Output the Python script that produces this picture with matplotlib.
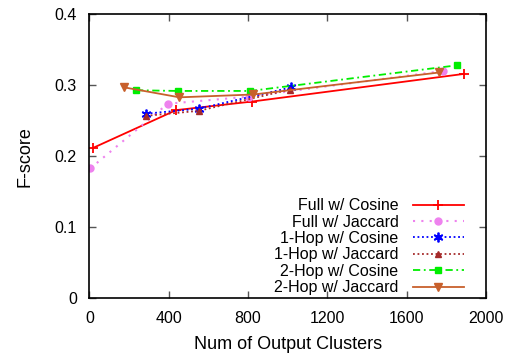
import matplotlib
matplotlib.use("Agg")
import matplotlib.pyplot as plt

# values
full_cos_x = [20, 437, 818, 1888]
full_cos_y = [0.212, 0.265, 0.277, 0.316]
full_jac_x = [5, 395, 806, 1781]
full_jac_y = [0.183, 0.274, 0.284, 0.320]
hop1_cos_x = [286, 551, 1017]
hop1_cos_y = [0.260, 0.267, 0.297]
hop1_jac_x = [286, 551, 1012]
hop1_jac_y = [0.257, 0.264, 0.294]
hop2_cos_x = [235, 445, 810, 1851]
hop2_cos_y = [0.293, 0.292, 0.292, 0.328]
hop2_jac_x = [176, 454, 827, 1764]
hop2_jac_y = [0.297, 0.283, 0.287, 0.318]

x_ticks = [0, 400, 800, 1200, 1600, 2000]
y_ticks = [0, 0.1, 0.2, 0.3, 0.4]
y_tick_labels = ["0", "0.1", "0.2", "0.3", "0.4"]

plt.rcParams["font.family"] = "Liberation Sans"

fig = plt.figure(figsize=(5.08, 3.56), dpi=100)
ax = fig.add_axes([0.176, 0.162, 0.781, 0.798])

ax.plot(full_cos_x, full_cos_y, color="#ff0000", lw=1.3, ls="-",
        marker="+", ms=7, mew=1.3, label="Full w/ Cosine")
ax.plot(full_jac_x, full_jac_y, color="#ee82ee", lw=1.5, ls=(0, (1, 3)),
        marker="o", ms=5, label="Full w/ Jaccard")
ax.plot(hop1_cos_x, hop1_cos_y, color="#0000ff", lw=1.3, ls=(0, (1, 1.5)),
        marker=(6, 2, 0), ms=7, mew=1.3, label="1-Hop w/ Cosine")
ax.plot(hop1_jac_x, hop1_jac_y, color="#a52a2a", lw=1.3, ls=(0, (1, 1.5)),
        marker="^", ms=4, label="1-Hop w/ Jaccard")
ax.plot(hop2_cos_x, hop2_cos_y, color="#00ee00", lw=1.3, ls=(0, (4, 2, 1, 2)),
        marker="s", ms=5, label="2-Hop w/ Cosine")
ax.plot(hop2_jac_x, hop2_jac_y, color="#c8602c", lw=1.3, ls="-",
        marker="v", ms=6, label="2-Hop w/ Jaccard")

ax.set_xlim(0, 2000)
ax.set_ylim(0, 0.4)
ax.set_xticks(x_ticks)
ax.set_yticks(y_ticks)
ax.set_yticklabels(y_tick_labels)
ax.tick_params(direction="in", top=True, right=True, labelsize=11.5,
               length=5, width=1, color="#555555")
ax.tick_params(axis="x", pad=9)
ax.tick_params(axis="y", pad=9)
ax.set_xlabel("Num of Output Clusters", fontsize=13, labelpad=7)
ax.set_ylabel("F-score", fontsize=13, labelpad=15)
for s in ax.spines.values():
    s.set_linewidth(1.2)

ax.legend(loc="lower right", bbox_to_anchor=(0.96, -0.012), frameon=False,
          markerfirst=False, fontsize=11.5, handlelength=3.2,
          labelspacing=0.09, borderaxespad=0.0, handletextpad=0.9)

fig.savefig("out.png", dpi=100)
